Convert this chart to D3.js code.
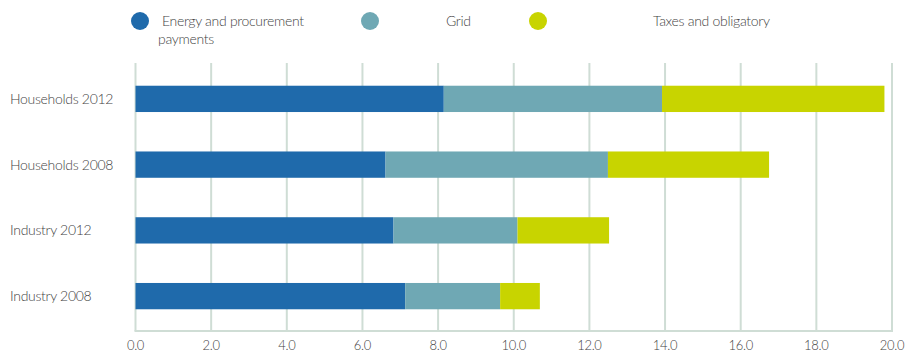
<!DOCTYPE html>
<html><head><meta charset="utf-8">
<script src="https://cdn.jsdelivr.net/npm/d3@7"></script>
<style>
body{margin:0;background:#fff;}
svg text{font-family:Lato,"Open Sans",sans-serif;fill:#444;font-weight:300;letter-spacing:-0.3px;}
</style></head>
<body><svg id="c" width="905" height="353"></svg>
<script>
const categories = ["Households 2012","Households 2008","Industry 2012","Industry 2008"];
const seriesNames = ["Energy and procurement payments","Grid","Taxes and obligatory"];
const energy = [8.15, 6.61, 6.82, 7.13];
const grid = [5.77, 5.88, 3.28, 2.51];
const taxes = [5.88, 4.26, 2.42, 1.05];
const tickValues = [0,2,4,6,8,10,12,14,16,18,20];
const colors = ["#1f6aab","#6fa8b4","#c8d400"];

const svg = d3.select("#c");
const x = d3.scaleLinear().domain([0,20]).range([135.5, 892]);
const y = d3.scaleBand().domain(categories).range([66, 329]).paddingInner(0.6).paddingOuter(0.3);

// gridlines
svg.append("g").selectAll("line").data(tickValues).join("line")
  .attr("x1", d=>x(d)).attr("x2", d=>x(d))
  .attr("y1", 63).attr("y2", 331)
  .attr("stroke","#cfddd5").attr("stroke-width",2);
svg.append("line").attr("x1", x(0)-1).attr("x2", x(20)+1).attr("y1",331).attr("y2",331)
  .attr("stroke","#cfddd5").attr("stroke-width",2);

// stacked data
const rows = categories.map((c,i)=>({cat:c, energy:energy[i], grid:grid[i], taxes:taxes[i]}));
const stack = d3.stack().keys(["energy","grid","taxes"])(rows);
svg.append("g").selectAll("g").data(stack).join("g")
  .attr("fill",(d,i)=>colors[i])
  .selectAll("rect").data(d=>d).join("rect")
  .attr("x", d=>x(d[0])).attr("width", d=>x(d[1])-x(d[0]))
  .attr("y", d=>y(d.data.cat)).attr("height", y.bandwidth());

// category labels
svg.append("g").selectAll("text").data(categories).join("text")
  .attr("x", 10).attr("y", d=>y(d)+y.bandwidth()/2+5)
  .attr("font-size", 14).text(d=>d);

// x tick labels
svg.append("g").selectAll("text").data(tickValues).join("text")
  .attr("x", d=>x(d)).attr("y", 350).attr("text-anchor","middle")
  .attr("font-size", 13).text(d=>d.toFixed(1));

// legend
const leg = [
  {cx:140, tx:162, lines:["Energy and procurement"], extra:{x:158, t:"payments"}},
  {cx:370, tx:446, lines:["Grid"]},
  {cx:538, tx:653, lines:["Taxes and obligatory"]}
];
leg.forEach((l,i)=>{
  svg.append("circle").attr("cx",l.cx).attr("cy",21).attr("r",9).attr("fill",colors[i]);
  svg.append("text").attr("x",l.tx).attr("y",26).attr("font-size",14).text(l.lines[0]);
  if(l.extra) svg.append("text").attr("x",l.extra.x).attr("y",44).attr("font-size",14).text(l.extra.t);
});
</script></body></html>
